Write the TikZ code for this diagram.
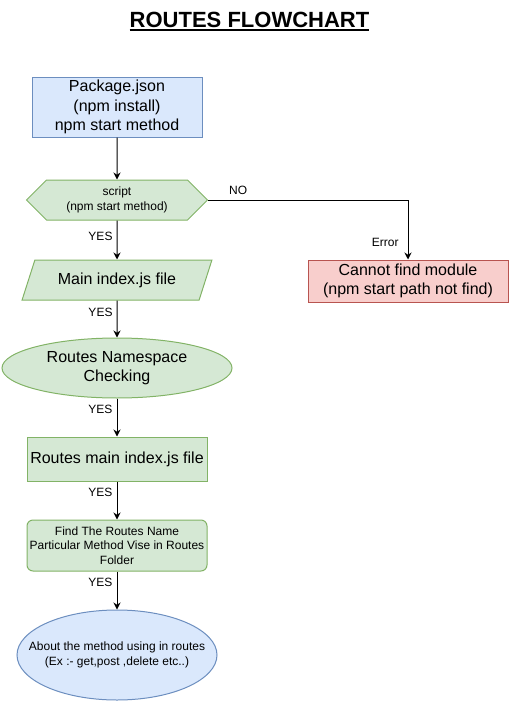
\documentclass[tikz,border=0pt]{standalone}
\usepackage{fontspec}
\setmainfont{Liberation Sans}
\usepackage{tikz}
\usetikzlibrary{positioning,shapes.geometric,shapes.symbols,arrows.meta}
\definecolor{bluefill}{HTML}{DAE8FC}
\definecolor{bluedraw}{HTML}{6C8EBF}
\definecolor{greenfill}{HTML}{D5E8D4}
\definecolor{greendraw}{HTML}{82B366}
\definecolor{redfill}{HTML}{F8CECC}
\definecolor{reddraw}{HTML}{B85450}

\begin{document}
\begin{tikzpicture}[
      x=1pt, y=-1pt,
      big/.style={font={\fontsize{16}{19.5}\selectfont}},
      small/.style={font={\fontsize{12}{14.5}\selectfont}},
      box/.style={draw, line width=1pt, align=center, inner sep=1pt},
      bluebox/.style={box, draw=bluedraw, fill=bluefill},
      greenbox/.style={box, draw=greendraw, fill=greenfill},
      redbox/.style={box, draw=reddraw, fill=redfill},
      hexa/.style={signal, signal to=east and west},
      para/.style={trapezium, trapezium left angle=61, trapezium right angle=119, trapezium stretches=true},
      ttl/.style={font={\fontsize{22}{26}\selectfont\bfseries}, inner sep=0pt, anchor=base},
      arr/.style={draw, line width=1pt, -{Stealth[length=7pt,width=7pt]}},
      lbl/.style={font={\fontsize{12}{14}\selectfont}, inner sep=1pt}
  ]
  \useasboundingbox (0,0) rectangle (509,701);
  \node[ttl] (title) at (249.5,27.5) {ROUTES FLOWCHART};
  \draw[line width=2pt] ([yshift=-3pt]title.base west) -- ([yshift=-3pt]title.base east);

  \node[bluebox, big, minimum width=170pt, minimum height=60pt] (pkg) at (117,107) {Package.json\\(npm install)\\npm start method};
  \node[greenbox, small, hexa, minimum width=181pt, minimum height=40pt] (scr) at (117,200) {script\\(npm start method)};
  \node[redbox, big, minimum width=200pt, minimum height=42pt] (err) at (408,281) {Cannot find module\\(npm start path not find)};
  \node[greenbox, big, para, minimum width=190pt, minimum height=40pt] (idx) at (117,280) {Main index.js file};
  \node[greenbox, big, ellipse, minimum width=230pt, minimum height=60pt] (ns) at (117,368) {Routes Namespace\\Checking};
  \node[greenbox, big, minimum width=180pt, minimum height=44pt] (rmain) at (117,459) {Routes main index.js file};
  \node[greenbox, small, rounded corners=6pt, minimum width=180pt, minimum height=51pt] (find) at (117,545.5) {Find The Routes Name\\Particular Method Vise in Routes\\Folder};
  \node[bluebox, small, ellipse, inner xsep=-20pt, minimum width=200pt, minimum height=90pt] (about) at (117,655) {About the method using in routes\\(Ex :- get,post ,delete etc..)};

  \draw[arr] (pkg) -- (scr);
  \draw[arr] (scr) -| node[lbl, pos=0.075, above=4pt] (no) {NO} node[lbl, pos=0.86, left=8pt] (error) {Error} (err);
  \draw[arr] (scr) -- node[lbl, pos=0.4, left=3pt] (yes1) {YES} (idx);
  \draw[arr] (idx) -- node[lbl, pos=0.32, left=3pt] (yes2) {YES} (ns);
  \draw[arr] (ns) -- node[lbl, pos=0.28, left=3pt] (yes3) {YES} (rmain);
  \draw[arr] (rmain) -- node[lbl, pos=0.28, left=3pt] (yes4) {YES} (find);
  \draw[arr] (find) -- node[lbl, pos=0.28, left=3pt] (yes5) {YES} (about);
\end{tikzpicture}
\end{document}
